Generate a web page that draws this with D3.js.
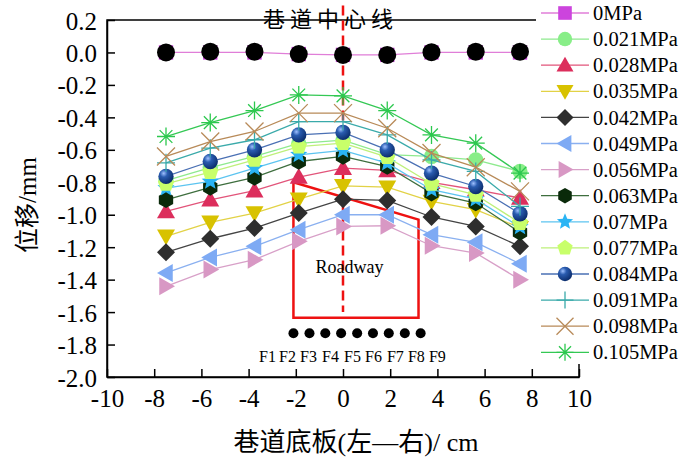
<!DOCTYPE html>
<html><head><meta charset="utf-8">
<script src="https://cdn.jsdelivr.net/npm/d3@7"></script>
<style>
html,body{margin:0;padding:0;background:#fff;}
text{font-family:"Liberation Serif","Times New Roman","Noto Sans CJK SC",serif;}
</style></head>
<body>
<svg id="c" width="685" height="458"></svg>
<script>
// ---------- data ----------
const xPositions = [-7.5, -5.625, -3.75, -1.875, 0, 1.875, 3.75, 5.625, 7.5];
const seriesNames = ["0MPa","0.021MPa","0.028MPa","0.035MPa","0.042MPa","0.049MPa","0.056MPa","0.063MPa","0.07MPa","0.077MPa","0.084MPa","0.091MPa","0.098MPa","0.105MPa"];
const v0MPa   = [0, 0, 0, -0.01, -0.015, -0.015, 0, 0, 0];
const v021MPa = [-0.79, -0.71, -0.64, -0.56, -0.54, -0.63, -0.641, -0.662, -0.733];
const v028MPa = [-0.98, -0.908, -0.852, -0.768, -0.713, -0.727, -0.80, -0.846, -0.897];
const v035MPa = [-1.133, -1.047, -0.99, -0.904, -0.822, -0.83, -0.918, -0.969, -1.08];
const v042MPa = [-1.232, -1.148, -1.082, -0.99, -0.904, -0.912, -1.014, -1.072, -1.195];
const v049MPa = [-1.359, -1.263, -1.195, -1.092, -1.0, -1.0, -1.123, -1.17, -1.302];
const v056MPa = [-1.441, -1.338, -1.277, -1.164, -1.072, -1.068, -1.191, -1.236, -1.40];
const v063MPa = [-0.908, -0.832, -0.77, -0.672, -0.641, -0.703, -0.867, -0.928, -1.109];
const v070MPa = [-0.836, -0.795, -0.713, -0.631, -0.604, -0.682, -0.846, -0.904, -1.076];
const v077MPa = [-0.81, -0.737, -0.662, -0.58, -0.559, -0.645, -0.809, -0.877, -1.051];
const v084MPa = [-0.764, -0.672, -0.60, -0.508, -0.493, -0.60, -0.744, -0.826, -0.994];
const v091MPa = [-0.68, -0.59, -0.538, -0.426, -0.426, -0.508, -0.662, -0.733, -0.949];
const v098MPa = [-0.641, -0.549, -0.487, -0.374, -0.374, -0.467, -0.62, -0.707, -0.856];
const v105MPa = [-0.518, -0.432, -0.358, -0.262, -0.268, -0.358, -0.508, -0.559, -0.744];
const seriesValues = [v0MPa,v021MPa,v028MPa,v035MPa,v042MPa,v049MPa,v056MPa,v063MPa,v070MPa,v077MPa,v084MPa,v091MPa,v098MPa,v105MPa];
const centerPointsX = [-7.5, -5.625, -3.75, -1.875, 0, 1.875, 3.75, 5.625, 7.5];
const centerPointsY = [0, 0.005, 0.005, -0.01, -0.015, -0.015, 0.002, 0.005, 0.005];
const floorPointsX = [-2.10, -1.42, -0.75, -0.08, 0.60, 1.27, 1.94, 2.62, 3.29];
const floorPointsY = -1.73;
const floorLabels = ["F1","F2","F3","F4","F5","F6","F7","F8","F9"];
const floorLabelX = [-3.20, -2.35, -1.46, -0.53, 0.40, 1.29, 2.22, 3.11, 4.00];
const roadwayX = [-2.1, 3.2, 3.2, -2.1];
const roadwayY = [-0.80, -1.03, -1.635, -1.635];
const xTicks = [-10,-8,-6,-4,-2,0,2,4,6,8,10];
const yTicks = [0.2,0,-0.2,-0.4,-0.6,-0.8,-1.0,-1.2,-1.4,-1.6,-1.8,-2.0];
const xTitle = "巷道底板(左—右)/ cm";
const yTitle = "位移/mm";
const centerTitle = "巷道中心线";

// ---------- styles ----------
const lineColors   = ["#E07ED8","#8EEA8E","#E2547A","#E2D246","#444444","#8AB0F0","#D8A0C8","#3E6E3E","#5CC4F0","#BEF07A","#4A70B4","#3AAAAA","#B88A58","#34C854"];
const markerColors = ["#CC44DD","#88EE88","#DC2E5C","#D8C200","#2E2E2E","#7EAAF4","#D898C4","#0A2A0A","#2AB4F4","#C8FF6A","#1A4C9A","#3AAAAA","#B88A58","#2CC84E"];
const markerTypes  = ["square","circle","triUp","triDown","diamond","triLeft","triRight","hexagon","star","pentagon","sphere","plus","xcross","asterisk"];

const svg = d3.select("#c");
const W = 685, H = 458;
const x = d3.scaleLinear().domain([-10,10]).range([107,579]);
const y = d3.scaleLinear().domain([-2.0,0.2]).range([377,20]);

const defs = svg.append("defs");
const grad = defs.append("radialGradient").attr("id","sph").attr("cx","35%").attr("cy","30%").attr("r","70%");
grad.append("stop").attr("offset","0%").attr("stop-color","#9ec0ff");
grad.append("stop").attr("offset","35%").attr("stop-color","#2a5cb0");
grad.append("stop").attr("offset","100%").attr("stop-color","#0c2e6e");

function poly(n, r, rot){
  const pts=[];
  for(let i=0;i<n;i++){const a=rot+i*2*Math.PI/n;pts.push([r*Math.cos(a),r*Math.sin(a)]);}
  return "M"+pts.map(p=>p.join(",")).join("L")+"Z";
}
function starPath(r){
  const pts=[];
  for(let i=0;i<10;i++){const rr=i%2?r*0.45:r;const a=-Math.PI/2+i*Math.PI/5;pts.push([rr*Math.cos(a),rr*Math.sin(a)]);}
  return "M"+pts.map(p=>p.join(",")).join("L")+"Z";
}
function drawMarker(g, type, fill, cx, cy, s){
  const m = g.append("g").attr("transform",`translate(${cx},${cy})`);
  const r = s;
  switch(type){
    case "square": m.append("rect").attr("x",-r*0.8).attr("y",-r*0.8).attr("width",r*1.6).attr("height",r*1.6).attr("fill",fill); break;
    case "circle": m.append("circle").attr("r",r*0.85).attr("fill",fill); break;
    case "triUp": m.append("path").attr("d",`M0,${-r}L${r},${r*0.75}L${-r},${r*0.75}Z`).attr("fill",fill); break;
    case "triDown": m.append("path").attr("d",`M0,${r}L${r},${-r*0.75}L${-r},${-r*0.75}Z`).attr("fill",fill); break;
    case "triLeft": m.append("path").attr("d",`M${-r},0L${r*0.75},${-r}L${r*0.75},${r}Z`).attr("fill",fill); break;
    case "triRight": m.append("path").attr("d",`M${r},0L${-r*0.75},${-r}L${-r*0.75},${r}Z`).attr("fill",fill); break;
    case "diamond": m.append("path").attr("d",`M0,${-r}L${r},0L0,${r}L${-r},0Z`).attr("fill",fill); break;
    case "hexagon": m.append("path").attr("d",poly(6,r*0.92,-Math.PI/2)).attr("fill",fill); break;
    case "pentagon": m.append("path").attr("d",poly(5,r*0.95,-Math.PI/2)).attr("fill",fill); break;
    case "star": m.append("path").attr("d",starPath(r)).attr("fill",fill); break;
    case "sphere": m.append("circle").attr("r",r*0.85).attr("fill","url(#sph)"); break;
    case "plus": m.append("path").attr("d",`M0,${-r}L0,${r}M${-r},0L${r},0`).attr("stroke",fill).attr("stroke-width",1.3); break;
    case "xcross": m.append("path").attr("d",`M${-r},${-r}L${r},${r}M${-r},${r}L${r},${-r}`).attr("stroke",fill).attr("stroke-width",1.3); break;
    case "asterisk": {
      let d=""; for(let i=0;i<4;i++){const a=i*Math.PI/4; d+=`M${-r*Math.cos(a)},${-r*Math.sin(a)}L${r*Math.cos(a)},${r*Math.sin(a)}`;}
      m.append("path").attr("d",d).attr("stroke",fill).attr("stroke-width",1.3); break;
    }
  }
}

// ---------- axes ----------
const plot = svg.append("g");
plot.append("rect").attr("x",x(-10)).attr("y",y(0.2)).attr("width",x(10)-x(-10)).attr("height",y(-2.0)-y(0.2))
  .attr("fill","none").attr("stroke","#000").attr("stroke-width",1.5);
const xAxis = d3.axisBottom(x).tickValues(xTicks).tickSizeInner(-8).tickSizeOuter(0).tickPadding(12).tickFormat(d=>d3.format("d")(d).replace("−","-"));
const gx = svg.append("g").attr("transform",`translate(0,${y(-2.0)})`).call(xAxis);
const yAxis = d3.axisLeft(y).tickValues(yTicks).tickSizeInner(-8).tickSizeOuter(0).tickPadding(10).tickFormat(d=>d3.format(".1f")(d).replace("−","-"));
const gy = svg.append("g").attr("transform",`translate(${x(-10)},0)`).call(yAxis);
[gx,gy].forEach(g=>{
  g.select(".domain").attr("stroke","#000").attr("stroke-width",1.5);
  g.selectAll(".tick line").attr("stroke","#000").attr("stroke-width",1.5);
  g.selectAll(".tick text").attr("fill","#000").style("font-size","25px").style("font-family","'Liberation Serif',serif");
});
gy.selectAll(".tick text").attr("dy","0.36em");

// ---------- annotations ----------
svg.append("line").attr("x1",x(0)).attr("x2",x(0)).attr("y1",y(0.29)).attr("y2",y(-1.6))
  .attr("stroke","#EE1111").attr("stroke-width",2.5).attr("stroke-dasharray","10,5");
const roadPts = roadwayX.map((d,i)=>[x(d),y(roadwayY[i])]);
svg.append("path").attr("d","M"+roadPts.map(p=>p.join(",")).join("L")+"Z")
  .attr("fill","none").attr("stroke","#EE1111").attr("stroke-width",2.5);
svg.append("text").attr("x",x(0.28)).attr("y",y(-1.357)).attr("text-anchor","middle")
  .style("font-size","18px").style("font-family","'Liberation Serif',serif").text("Roadway");
svg.append("text").attr("x",x(-0.53)).attr("y",y(0.157)).attr("text-anchor","middle")
  .style("font-size","22px").style("letter-spacing","5px").style("font-family","'Noto Sans CJK SC',sans-serif").text(centerTitle);
floorPointsX.forEach(d=>svg.append("circle").attr("cx",x(d)).attr("cy",y(floorPointsY)).attr("r",5).attr("fill","#000"));
floorLabels.forEach((t,i)=>svg.append("text").attr("x",x(floorLabelX[i])).attr("y",y(-1.907)).attr("text-anchor","middle")
  .style("font-size","16px").style("font-family","'Liberation Serif',serif").text(t));

// ---------- series ----------
const line = d3.line().x((d,i)=>x(xPositions[i])).y(d=>y(d));
seriesValues.forEach((vals,si)=>{
  const g = svg.append("g");
  g.append("path").attr("d",line(vals)).attr("fill","none").attr("stroke",lineColors[si]).attr("stroke-width",1.3);
  vals.forEach((v,i)=>drawMarker(g, markerTypes[si], markerColors[si], x(xPositions[i]), y(v), 9));
  if(si===0){
    centerPointsX.forEach((d,i)=>g.append("circle").attr("cx",x(d)).attr("cy",y(centerPointsY[i])).attr("r",9).attr("fill","#000"));
  }
});

// ---------- axis titles ----------
svg.append("text").attr("x",356).attr("y",451).attr("text-anchor","middle")
  .style("font-size","26px").style("font-family","'Liberation Serif','Noto Sans CJK SC',serif").text(xTitle);
svg.append("text").attr("transform","translate(36,205) rotate(-90)").attr("text-anchor","middle")
  .style("font-size","25px").style("font-family","'Liberation Serif','Noto Sans CJK SC',serif").text(yTitle);

// ---------- legend ----------
const lg = svg.append("g");
lg.append("rect").attr("x",536).attr("y",0).attr("width",W-536).attr("height",364).attr("fill","#fff");
seriesNames.forEach((n,i)=>{
  const cy = 13 + i*26.1;
  lg.append("line").attr("x1",541).attr("x2",589).attr("y1",cy).attr("y2",cy).attr("stroke",lineColors[i]).attr("stroke-width",1.3);
  drawMarker(lg, markerTypes[i], markerColors[i], 565, cy, 8.5);
  lg.append("text").attr("x",593).attr("y",cy).attr("dy","0.35em")
    .style("font-size","20.5px").style("font-family","'Liberation Serif',serif").text(n);
});
</script>
</body></html>
